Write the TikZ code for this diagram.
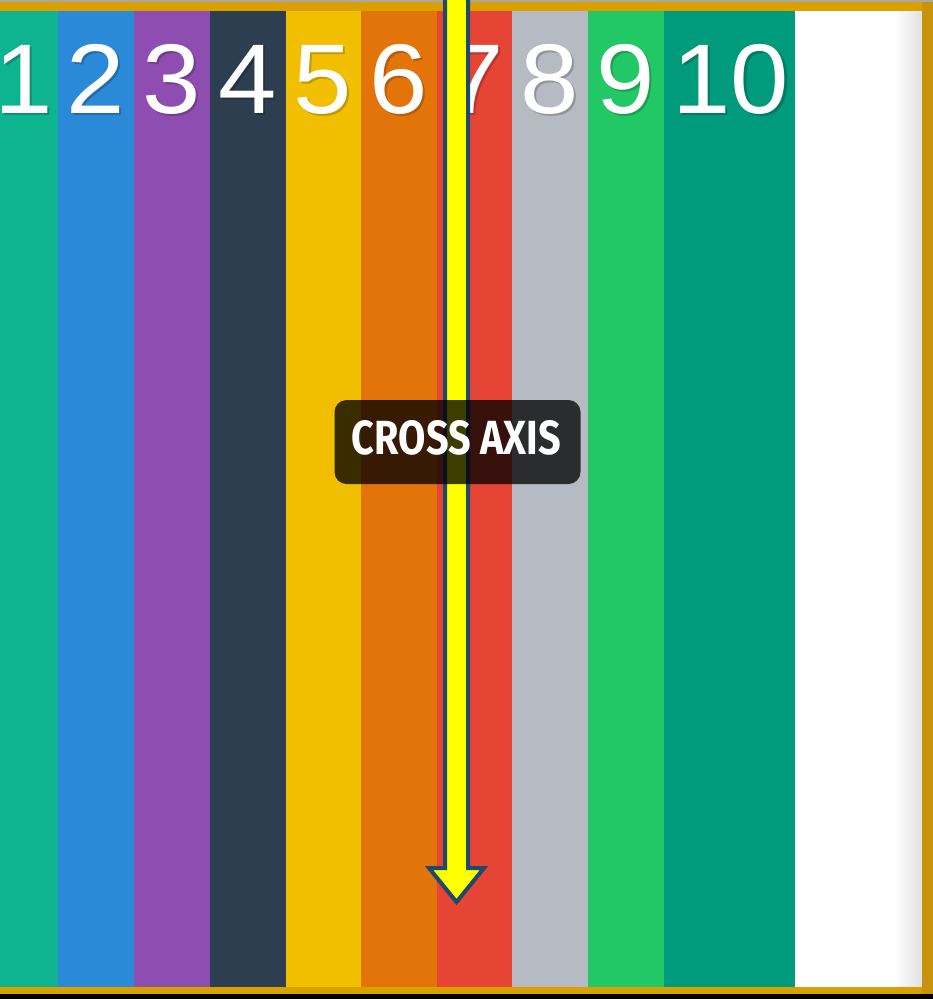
\documentclass[tikz,border=0pt]{standalone}
\usepackage{fontspec}
\usepackage{graphicx}
\setmainfont{Liberation Sans}
\newfontfamily\labelfont{Fira Sans}
\definecolor{goldframe}{HTML}{D9A000}
\definecolor{goldside}{HTML}{C8920A}
\definecolor{topgrey}{HTML}{A8A8A8}
\definecolor{cA}{HTML}{0DB48F}
\definecolor{cB}{HTML}{2B8AD8}
\definecolor{cC}{HTML}{8E4DB0}
\definecolor{cD}{HTML}{2C3E50}
\definecolor{cE}{HTML}{F1BF00}
\definecolor{cF}{HTML}{E2740A}
\definecolor{cG}{HTML}{E64434}
\definecolor{cH}{HTML}{B6BAC2}
\definecolor{cI}{HTML}{21C865}
\definecolor{cJ}{HTML}{009A7C}
\definecolor{arrowblue}{HTML}{1C4A6E}
\definecolor{arrowyellow}{HTML}{FFFF00}
\newcommand{\shadownum}[2]{\makebox[0pt][l]{\hspace{2pt}\raisebox{-2.5pt}{\color{#1!80!black}#2}}#2}
\tikzset{
  numtext/.style={anchor=base, text=white, font=\fontsize{99}{99}\selectfont, inner sep=0pt, xscale=1.06},
  labelbox/.style={fill=black, fill opacity=0.76, rounded corners=12pt, minimum width=246pt, minimum height=84pt, inner sep=0pt},
  labeltext/.style={text=white, inner sep=0pt},
  bigarrow/.style={line width=4pt, draw=arrowblue, fill=arrowyellow, line join=miter}
}
\begin{document}
\begin{tikzpicture}[x=1pt,y=-1pt]
\useasboundingbox (0,0) rectangle (933,999);
\fill[white] (0,0) rectangle (933,999);
% columns
\foreach \a/\b/\c in {0/58/cA,58/134/cB,134/210/cC,210/286/cD,286/361/cE,361/437/cF,437/512/cG,512/588/cH,588/664/cI,664/795/cJ}{
  \fill[\c] (\a,11) rectangle (\b,987);
}
\shade[left color=white, right color=black!12] (895,11) rectangle (922,987);
% numbers
\foreach \i/\x/\c in {1/24/cA,2/96/cB,3/172/cC,4/248/cD,5/323/cE,6/399/cF,7/475/cG,8/550/cH,9/626/cI,10/731/cJ}{
  \node[numtext] (n\i) at (\x,113) {\shadownum{\c}{\i}};
}
% frame
\fill[topgrey] (0,0) rectangle (933,2);
\fill[goldframe] (0,2) rectangle (933,11);
\fill[goldside] (922,2) rectangle (933,994);
\fill[goldframe] (0,987) rectangle (922,994);
\fill[black] (0,994) rectangle (933,999);
% arrow
\coordinate (atip) at (456.5,902);
\draw[bigarrow] (445,-10) -- (445,868) -- (429,868) -- (atip) -- (484,868) -- (468,868) -- (468,-10) -- cycle;
% label
\node[labelbox] (lbl) at (457.5,442) {};
\node[labeltext] (lbltext) at (456.5,438) {\resizebox{209pt}{34pt}{\labelfont\bfseries CROSS AXIS}};
\end{tikzpicture}
\end{document}
